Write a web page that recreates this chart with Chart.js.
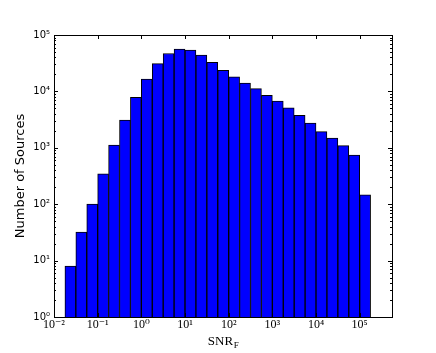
<!DOCTYPE html>
<html>
<head>
<meta charset="utf-8">
<script src="https://cdn.jsdelivr.net/npm/chart.js@4/dist/chart.umd.min.js"></script>
<style>
  html, body { margin: 0; padding: 0; background: #fff; }
  #wrap { width: 436px; height: 353px; }
</style>
</head>
<body>
<div id="wrap"><canvas id="snr-hist" width="436" height="353"></canvas></div>
<script>
// log10(SNR_F) at the centre of each 0.25 dex bin
const binCentersLog = [-1.625, -1.375, -1.125, -0.875, -0.625, -0.375, -0.125, 0.125,
                       0.375, 0.625, 0.875, 1.125, 1.375, 1.625, 1.875, 2.125,
                       2.375, 2.625, 2.875, 3.125, 3.375, 3.625, 3.875, 4.125,
                       4.375, 4.625, 4.875, 5.125];
// number of sources per bin
const sourceCounts = [8, 32, 100, 345, 1120, 3100, 7850, 16600,
                      31000, 47000, 56500, 54000, 44000, 32800, 23700, 18200,
                      14100, 11200, 8500, 6750, 5100, 3770, 2750, 1930,
                      1490, 1090, 740, 146];

const xTickValues = [0.01, 0.1, 1, 10, 100, 1000, 10000, 100000];
const xTickLabels = ['10⁻²', '10⁻¹', '10⁰', '10¹', '10²', '10³', '10⁴', '10⁵'];
const yTickValues = [1, 10, 100, 1000, 10000, 100000];
const yTickLabels = ['10⁰', '10¹', '10²', '10³', '10⁴', '10⁵'];

const X_MIN = 0.01;
const X_MAX = Math.pow(10, 5.74);

// frame + inward ticks on all four sides, like matplotlib's classic style
const frameTicks = {
    id: 'frameTicks',
    afterDatasetsDraw(chart) {
        const { ctx, chartArea: a, scales: { x, y } } = chart;
        ctx.save();
        ctx.strokeStyle = '#000';
        ctx.lineWidth = 1;
        ctx.beginPath();
        // major ticks on x (bottom + top)
        xTickValues.forEach(v => {
            const px = Math.round(x.getPixelForValue(v)) + 0.5;
            ctx.moveTo(px, a.bottom); ctx.lineTo(px, a.bottom - 4);
            ctx.moveTo(px, a.top); ctx.lineTo(px, a.top + 4);
        });
        // major + minor ticks on y (left + right)
        yTickValues.forEach((v, i) => {
            const py = Math.round(y.getPixelForValue(v)) + 0.5;
            ctx.moveTo(a.left, py); ctx.lineTo(a.left + 4, py);
            ctx.moveTo(a.right, py); ctx.lineTo(a.right - 4, py);
            if (i < yTickValues.length - 1) {
                for (let m = 2; m < 10; m++) {
                    const pm = Math.round(y.getPixelForValue(v * m)) + 0.5;
                    ctx.moveTo(a.left, pm); ctx.lineTo(a.left + 2, pm);
                    ctx.moveTo(a.right, pm); ctx.lineTo(a.right - 2, pm);
                }
            }
        });
        ctx.stroke();
        ctx.strokeRect(Math.round(a.left) + 0.5, Math.round(a.top) + 0.5,
                       Math.round(a.right - a.left), Math.round(a.bottom - a.top));

        // x axis label with subscript
        const cx = (a.left + a.right) / 2;
        ctx.fillStyle = '#000';
        ctx.textBaseline = 'alphabetic';
        ctx.font = '13px "Liberation Serif", "DejaVu Serif", serif';
        const main = 'SNR';
        const wMain = ctx.measureText(main).width;
        ctx.font = '9px "Liberation Serif", "DejaVu Serif", serif';
        const wSub = ctx.measureText('F').width;
        const startX = cx - (wMain + wSub) / 2;
        ctx.font = '13px "Liberation Serif", "DejaVu Serif", serif';
        ctx.fillText(main, startX, 345);
        ctx.font = '9px "Liberation Serif", "DejaVu Serif", serif';
        ctx.fillText('F', startX + wMain + 0.5, 347.5);
        ctx.restore();
    }
};

const ctx = document.getElementById('snr-hist').getContext('2d');
new Chart(ctx, {
    type: 'bar',
    data: {
        datasets: [{
            label: 'Number of Sources',
            data: binCentersLog.map((c, i) => ({ x: Math.pow(10, c), y: sourceCounts[i] })),
            backgroundColor: '#0000ff',
            borderColor: '#000000',
            borderWidth: 1,
            borderSkipped: 'bottom',
            barPercentage: 1.0,
            categoryPercentage: 1.0
        }]
    },
    options: {
        responsive: false,
        animation: false,
        events: [],
        layout: { padding: { left: 0, right: 44, top: 35, bottom: 0 } },
        plugins: {
            legend: { display: false },
            tooltip: { enabled: false }
        },
        scales: {
            x: {
                type: 'logarithmic',
                min: X_MIN,
                max: X_MAX,
                grid: { display: false, drawTicks: false },
                border: { display: false },
                afterBuildTicks: scale => {
                    scale.ticks = xTickValues.map(v => ({ value: v }));
                },
                afterFit: scale => { scale.height = 36; },
                ticks: {
                    autoSkip: false,
                    maxRotation: 0,
                    padding: 1,
                    color: '#000',
                    font: { family: '"Liberation Serif", "DejaVu Serif", serif', size: 12 },
                    callback: (value, index) => xTickLabels[index]
                }
            },
            y: {
                type: 'logarithmic',
                min: 1,
                max: 100000,
                grid: { display: false, drawTicks: false },
                border: { display: false },
                afterBuildTicks: scale => {
                    scale.ticks = yTickValues.map(v => ({ value: v }));
                },
                afterFit: scale => { scale.width = 54; },
                title: {
                    display: true,
                    text: 'Number of Sources',
                    color: '#000',
                    font: { family: '"DejaVu Sans", sans-serif', size: 13 },
                    padding: { top: 13, bottom: 0 }
                },
                ticks: {
                    autoSkip: false,
                    padding: 4,
                    color: '#000',
                    font: { family: '"DejaVu Sans", sans-serif', size: 10 },
                    callback: (value, index) => yTickLabels[index]
                }
            }
        }
    },
    plugins: [frameTicks]
});
</script>
</body>
</html>
